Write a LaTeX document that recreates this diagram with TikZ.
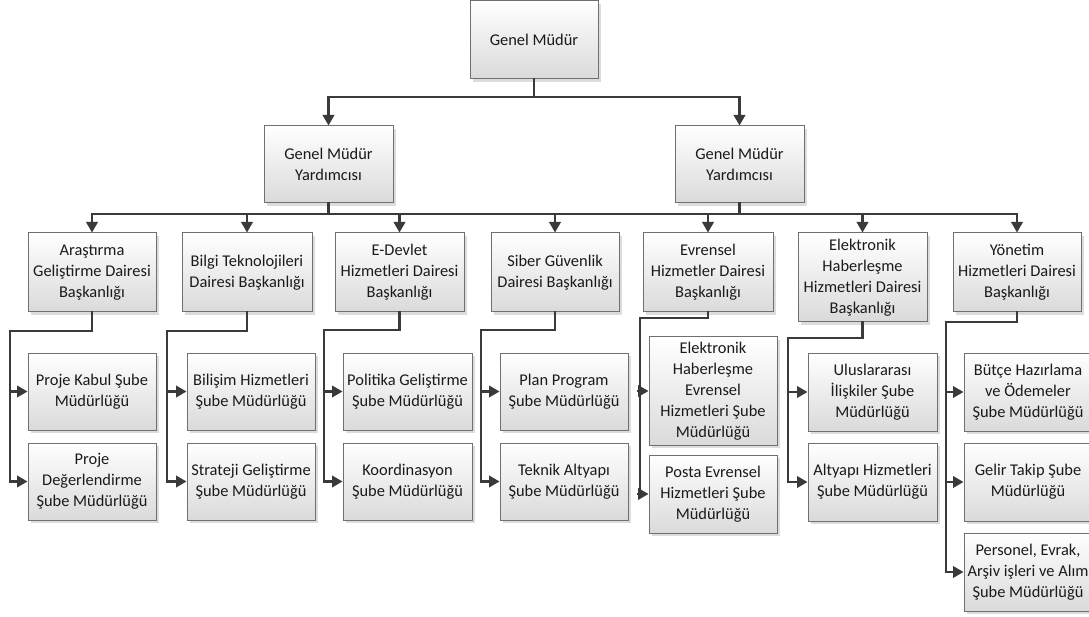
\documentclass[tikz,border=0pt]{standalone}
\usepackage{fontspec}
\setmainfont{Carlito}
\usetikzlibrary{arrows.meta,shadows}
\definecolor{linegray}{HTML}{3A3A3A}
\definecolor{edgegray}{HTML}{707070}
\definecolor{fillbottom}{HTML}{DADADA}
\definecolor{textgray}{HTML}{1A1A1A}
\tikzset{
  orgbox/.style={draw=edgegray, line width=1pt, top color=white, bottom color=fillbottom,
    drop shadow={shadow xshift=3pt, shadow yshift=-3pt, fill=black!30, opacity=0.45},
    align=center, inner sep=0pt, text=textgray,
    font=\fontsize{16.4}{21}\selectfont},
  link/.style={draw=linegray, line width=2.2pt, line cap=rect},
  linkarrow/.style={link, -{Triangle[length=10.5pt,width=11.5pt]}},
}
% \orgnode{name}{left}{top}{right}{bottom}{text}, all in pixel units
\newcommand{\orgnode}[6]{\node[orgbox, minimum width={(#4-#2)*1pt}, minimum height={(#5-#3)*1pt}] (#1) at ({(#2+#4)/2},{(#3+#5)/2}) {#6};}
\begin{document}
\begin{tikzpicture}[x=1pt,y=-1pt]
\useasboundingbox (0,0) rectangle (1089,617);

% top levels
\orgnode{gm}{470}{1}{598}{79}{Genel Müdür}
\orgnode{gmyL}{264}{126}{393}{203}{Genel Müdür\\Yardımcısı}
\orgnode{gmyR}{675}{126}{804}{203}{Genel Müdür\\Yardımcısı}

% departments
\orgnode{A}{28}{233}{156}{312}{Araştırma\\Geliştirme Dairesi\\Başkanlığı}
\orgnode{B}{182}{233}{312}{312}{Bilgi Teknolojileri\\Dairesi Başkanlığı}
\orgnode{C}{335}{233}{464}{312}{E-Devlet\\Hizmetleri Dairesi\\Başkanlığı}
\orgnode{D}{491}{233}{619}{312}{Siber Güvenlik\\Dairesi Başkanlığı}
\orgnode{E}{643}{233}{773}{312}{Evrensel\\Hizmetler Dairesi\\Başkanlığı}
\orgnode{F}{798}{233}{927}{322}{Elektronik\\Haberleşme\\Hizmetleri Dairesi\\Başkanlığı}
\orgnode{G}{953}{233}{1081}{312}{Yönetim\\Hizmetleri Dairesi\\Başkanlığı}

% branch offices
\orgnode{a1}{28}{353}{156}{430}{Proje Kabul Şube\\Müdürlüğü}
\orgnode{a2}{28}{443}{156}{520}{Proje\\Değerlendirme\\Şube Müdürlüğü}
\orgnode{b1}{187}{353}{315}{430}{Bilişim Hizmetleri\\Şube Müdürlüğü}
\orgnode{b2}{187}{443}{315}{520}{Strateji Geliştirme\\Şube Müdürlüğü}
\orgnode{c1}{343}{353}{472}{430}{Politika Geliştirme\\Şube Müdürlüğü}
\orgnode{c2}{343}{443}{472}{520}{Koordinasyon\\Şube Müdürlüğü}
\orgnode{d1}{500}{353}{628}{430}{Plan Program\\Şube Müdürlüğü}
\orgnode{d2}{500}{443}{628}{520}{Teknik Altyapı\\Şube Müdürlüğü}
\orgnode{e1}{649}{337}{777}{445}{Elektronik\\Haberleşme\\Evrensel\\Hizmetleri Şube\\Müdürlüğü}
\orgnode{e2}{649}{455}{777}{533}{Posta Evrensel\\Hizmetleri Şube\\Müdürlüğü}
\orgnode{f1}{808}{353}{937}{431}{Uluslararası\\İlişkiler Şube\\Müdürlüğü}
\orgnode{f2}{808}{443}{937}{521}{Altyapı Hizmetleri\\Şube Müdürlüğü}
\orgnode{g1}{964}{353}{1092}{431}{Bütçe Hazırlama\\ve Ödemeler\\Şube Müdürlüğü}
\orgnode{g2}{964}{443}{1092}{521}{Gelir Takip Şube\\Müdürlüğü}
\orgnode{g3}{964}{533}{1092}{611}{Personel, Evrak,\\Arşiv işleri ve Alım\\Şube Müdürlüğü}

% general manager to deputies
\coordinate (topbus) at (534,97);
\draw[linkarrow] (gm.south) -- (topbus) -| (gmyL.north);
\draw[linkarrow] (gm.south) -- (topbus) -| (gmyR.north);

% deputies to departments
\coordinate (midbus) at (0,214);
\draw[link] (gmyL.south) -- (gmyL.south |- midbus);
\draw[link] (gmyR.south) -- (gmyR.south |- midbus);
\draw[link] (A.north |- midbus) -- (G.north |- midbus);
\foreach \d in {A,B,C,D,E,F,G}
  \draw[linkarrow] (\d.north |- midbus) -- (\d.north);

% departments to branch offices
\coordinate (aE) at (10,331);
\coordinate (bE) at (167,331);
\coordinate (cE) at (324,330);
\coordinate (dE) at (481,330);
\coordinate (eE) at (640,318);
\coordinate (fE) at (788,338);
\coordinate (gE) at (946,322);

\draw[linkarrow] (A.south) |- (aE) |- (a2.west);
\draw[linkarrow] (aE |- a1.west) -- (a1.west);
\draw[linkarrow] (B.south) |- (bE) |- (b2.west);
\draw[linkarrow] (bE |- b1.west) -- (b1.west);
\draw[linkarrow] (C.south) |- (cE) |- (c2.west);
\draw[linkarrow] (cE |- c1.west) -- (c1.west);
\draw[linkarrow] (D.south) |- (dE) |- (d2.west);
\draw[linkarrow] (dE |- d1.west) -- (d1.west);
\draw[linkarrow] (E.south) |- (eE) |- (e2.west);
\draw[linkarrow] (eE |- e1.west) -- (e1.west);
\draw[linkarrow] (F.south) |- (fE) |- (f2.west);
\draw[linkarrow] (fE |- f1.west) -- (f1.west);
\draw[linkarrow] (G.south) |- (gE) |- (g3.west);
\draw[linkarrow] (gE |- g1.west) -- (g1.west);
\draw[linkarrow] (gE |- g2.west) -- (g2.west);
\end{tikzpicture}
\end{document}
